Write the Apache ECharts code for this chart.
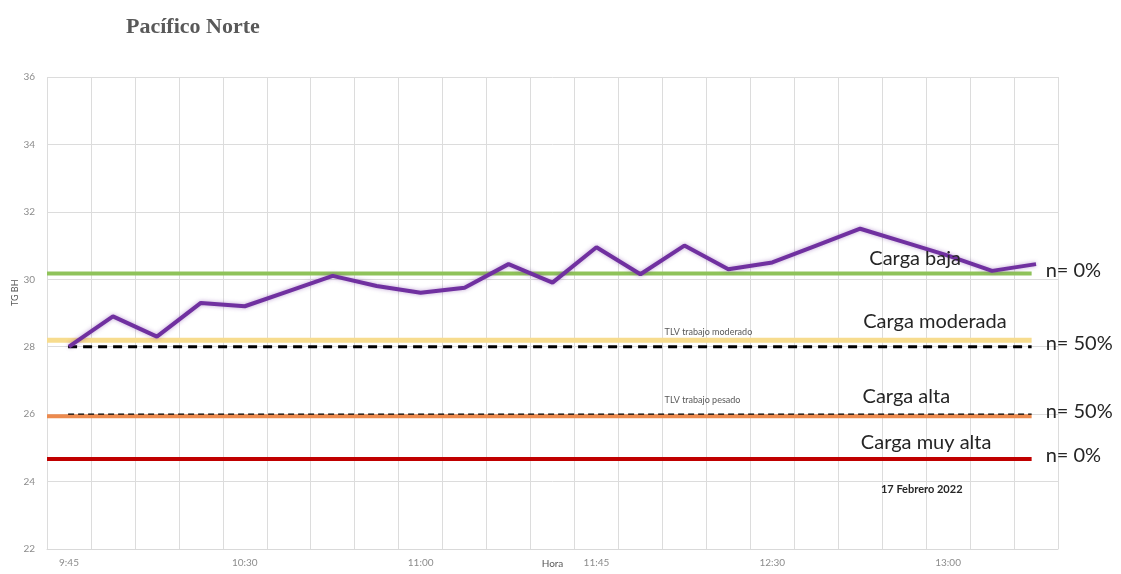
<!DOCTYPE html>
<html>
<head>
<meta charset="utf-8">
<script src="https://cdn.jsdelivr.net/npm/echarts@6/dist/echarts.min.js"></script>
<style>
  html, body { margin: 0; padding: 0; background: #ffffff; }
  #chart { width: 1121px; height: 574px; }
</style>
</head>
<body>
<div id="chart"></div>
<script>
// Time slots along the day (only some carry a printed label)
const times = ['9:45', '', '', '', '10:30', '', '', '', '11:00', '', '', '',
               '11:45', '', '', '', '12:30', '', '', '', '13:00', '', ''];
// Measured TGBH (°C) at each slot
const tgbh = [28.0, 28.9, 28.3, 29.3, 29.2, 29.65, 30.1, 29.8, 29.6, 29.75, 30.45, 29.9,
              30.95, 30.15, 31.0, 30.3, 30.5, 31.0, 31.5, 31.1, 30.7, 30.25, 30.45];

// Work-load reference levels
const bandNames = ['Carga baja', 'Carga moderada', 'Carga alta', 'Carga muy alta'];
const bandLevels = [30.17, 28.19, 25.94, 24.67];
const bandColors = ['#8fc35a', '#f7dc8e', '#ec8a4e', '#c00000'];

// TLV limits
const tlvNames = ['TLV trabajo moderado', 'TLV trabajo pesado'];
const tlvLevels = [28.0, 26.0];

// Share of readings per level
const shares = ['n= 0%', 'n= 50%', 'n= 50%', 'n= 0%'];

const yTicks = [22, 24, 26, 28, 30, 32, 34, 36];

const chart = echarts.init(document.getElementById('chart'), null, { renderer: 'canvas' });

const BAND_END = 22.4;
const endLabel = (text) => ({
  show: true,
  formatter: text,
  distance: 14,
  offset: [0, -3],
  color: '#262626',
  fontFamily: 'Lato',
  fontSize: 20
});

const series = [];

// Coloured load bands
bandLevels.forEach((lvl, i) => {
  const s = {
    name: bandNames[i],
    type: 'line',
    xAxisIndex: 1,
    yAxisIndex: 0,
    showSymbol: false,
    silent: true,
    z: 2,
    lineStyle: { color: bandColors[i], width: i === 1 ? 5 : 4 },
    data: [[0, lvl], [BAND_END, lvl]]
  };
  if (i === 0) s.endLabel = endLabel(shares[0]);
  if (i === 3) s.endLabel = endLabel(shares[3]);
  series.push(s);
});

// TLV dashed limits
tlvLevels.forEach((lvl, i) => {
  series.push({
    name: tlvNames[i],
    type: 'line',
    xAxisIndex: 1,
    yAxisIndex: 0,
    showSymbol: false,
    silent: true,
    z: 3,
    lineStyle: {
      color: '#000000',
      width: i === 0 ? 3 : 1.2,
      type: i === 0 ? [9, 6] : [6, 4]
    },
    endLabel: endLabel(shares[i + 1]),
    data: [[0.48, lvl], [BAND_END, lvl]]
  });
});

// Measured series
series.push({
  name: 'TGBH',
  type: 'line',
  xAxisIndex: 0,
  yAxisIndex: 0,
  showSymbol: false,
  z: 5,
  lineStyle: {
    color: '#7030a0',
    width: 4,
    shadowColor: 'rgba(112, 48, 160, 0.45)',
    shadowBlur: 4
  },
  data: tgbh
});

chart.setOption({
  animation: false,
  backgroundColor: '#ffffff',
  title: {
    text: 'Pacífico Norte',
    left: 121,
    top: 11,
    textStyle: {
      fontFamily: 'Liberation Serif',
      fontWeight: 'bold',
      fontSize: 22,
      color: '#595959'
    }
  },
  grid: { left: 47, right: 63, top: 77, bottom: 25, containLabel: false, outerBoundsMode: 'none' },
  xAxis: [
    {
      type: 'category',
      data: times,
      boundaryGap: true,
      name: 'Hora',
      nameLocation: 'middle',
      nameGap: 10,
      nameMoveOverlap: false,
      nameTextStyle: { fontFamily: 'Lato', fontSize: 10, color: '#595959' },
      axisLine: { lineStyle: { color: '#d9d9d9' } },
      axisTick: { show: false },
      axisLabel: { interval: 0, margin: 9, fontFamily: 'Lato', fontSize: 10, color: '#8c8c8c' },
      splitLine: { show: true, interval: 0, lineStyle: { color: '#dcdcdc', width: 1 } }
    },
    {
      type: 'value',
      min: 0,
      max: times.length,
      show: false,
      splitLine: { show: false }
    }
  ],
  yAxis: {
    type: 'value',
    min: yTicks[0],
    max: yTicks[yTicks.length - 1],
    interval: 2,
    axisLine: { show: false },
    axisTick: { show: false },
    axisLabel: { margin: 12, fontFamily: 'Lato', fontSize: 10, color: '#8c8c8c' },
    splitLine: { lineStyle: { color: '#dcdcdc', width: 1 } }
  },
  series: series
});

// Annotations anchored in data space
const px = (x, y) => chart.convertToPixel({ xAxisIndex: 1, yAxisIndex: 0 }, [x, y]);
const bandTextAnchors = [[19.75, 30.62], [20.2, 28.75], [19.55, 26.53], [20.0, 25.17]];
const graphics = [];
bandNames.forEach((name, i) => {
  const p = px(bandTextAnchors[i][0], bandTextAnchors[i][1]);
  graphics.push({
    type: 'text', x: p[0], y: p[1], silent: true, z: 10,
    style: {
      text: name, fill: '#262626', font: '20px Lato',
      textAlign: 'center', textVerticalAlign: 'middle'
    }
  });
});
tlvNames.forEach((name, i) => {
  const p = px(14.05, tlvLevels[i] + 0.42);
  graphics.push({
    type: 'text', x: p[0], y: p[1], silent: true, z: 10,
    style: {
      text: name, fill: '#595959', font: '9px Lato',
      textAlign: 'left', textVerticalAlign: 'middle'
    }
  });
});
const dp = px(19.9, 23.78);
graphics.push({
  type: 'text', x: dp[0], y: dp[1], silent: true, z: 10,
  style: {
    text: '17 Febrero 2022', fill: '#262626', font: 'bold 11px Lato',
    textAlign: 'center', textVerticalAlign: 'middle'
  }
});
const yName = px(0, 29.6);
graphics.push({
  type: 'text', x: 15, y: yName[1], rotation: Math.PI / 2, silent: true, z: 10,
  style: {
    text: 'TG BH', fill: '#595959', font: '9px Lato',
    textAlign: 'center', textVerticalAlign: 'middle'
  }
});
chart.setOption({ graphic: graphics });
</script>
</body>
</html>
